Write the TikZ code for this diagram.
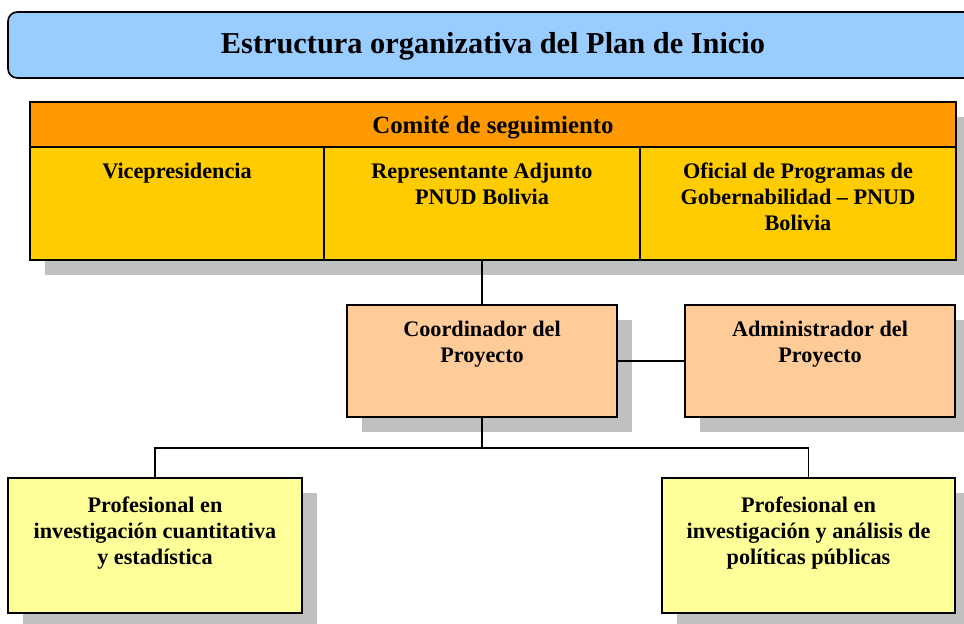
\documentclass[tikz,border=0pt]{standalone}
\usepackage{fontspec}
\setmainfont{Liberation Serif}
\usetikzlibrary{fit,shadows}
\definecolor{celeste}{HTML}{99CCFF}
\definecolor{naranja}{HTML}{FF9900}
\definecolor{amarillo}{HTML}{FFCC00}
\definecolor{durazno}{HTML}{FFCC99}
\definecolor{crema}{HTML}{FFFF99}
\definecolor{sombra}{HTML}{C0C0C0}
\tikzset{
  caja/.style={draw=black, line width=0.8pt, inner sep=0pt,
    drop shadow={shadow xshift=8pt, shadow yshift=-8pt, fill=sombra, opacity=1}},
  letra/.style={font=\bfseries\fontsize{12}{14}\selectfont, align=center, inner sep=0pt},
  texto/.style={letra, anchor=north, yshift=-9pt},
  linea/.style={line width=0.8pt}
}
\begin{document}
\begin{tikzpicture}[x=0.54pt,y=-0.54pt]
\useasboundingbox (0,0) rectangle (964,623);
% titulo
\node[draw=black, line width=0.9pt, fill=celeste, rounded corners=5pt, inner sep=0pt, fit={(8,12) (980,78)}] (barra) {};
\node[letra, font=\bfseries\fontsize{16.4}{18}\selectfont] (titulo) at (493,46) {Estructura organizativa del Plan de Inicio};
% comite de seguimiento
\node[caja, fill=naranja, fit={(30,102) (956,147)}] (comite) {};
\node[letra, font=\bfseries\fontsize{13.4}{15}\selectfont] (tcomite) at ([yshift=-1.5pt]comite.center) {Comité de seguimiento};
\node[caja, fill=amarillo, fit={(30,147) (324,260)}] (vice) {};
\node[caja, fill=amarillo, fit={(324,147) (640,260)}] (repre) {};
\node[caja, fill=amarillo, fit={(640,147) (956,260)}] (oficial) {};
\node[texto] (tvice) at (vice.north) {Vicepresidencia};
\node[texto] (trepre) at (repre.north) {Representante Adjunto\\PNUD Bolivia};
\node[texto] (toficial) at (oficial.north) {Oficial de Programas de\\Gobernabilidad -- PNUD\\Bolivia};
% proyecto
\node[caja, fill=durazno, fit={(347,305) (617,417)}] (coord) {};
\node[caja, fill=durazno, fit={(685,305) (955,417)}] (admin) {};
\node[texto] (tcoord) at (coord.north) {Coordinador del\\Proyecto};
\node[texto] (tadmin) at (admin.north) {Administrador del\\Proyecto};
% profesionales
\node[caja, fill=crema, fit={(8,478) (302,613)}] (cuanti) {};
\node[caja, fill=crema, fit={(662,478) (955,613)}] (politicas) {};
\node[texto, yshift=-1.5pt] (tcuanti) at (cuanti.north) {Profesional en\\investigación cuantitativa\\y estadística};
\node[texto, yshift=-1.5pt] (tpoliticas) at (politicas.north) {Profesional en\\investigación y análisis de\\políticas públicas};
% conectores
\coordinate (cruce) at (482,448);
\draw[linea] (repre.south) -- (coord.north);
\draw[linea] (coord.east) -- (admin.west);
\draw[linea] (coord.south) -- (cruce);
\draw[linea] (cruce) -| (cuanti.north);
\draw[linea] (cruce) -| (politicas.north);
\end{tikzpicture}
\end{document}
